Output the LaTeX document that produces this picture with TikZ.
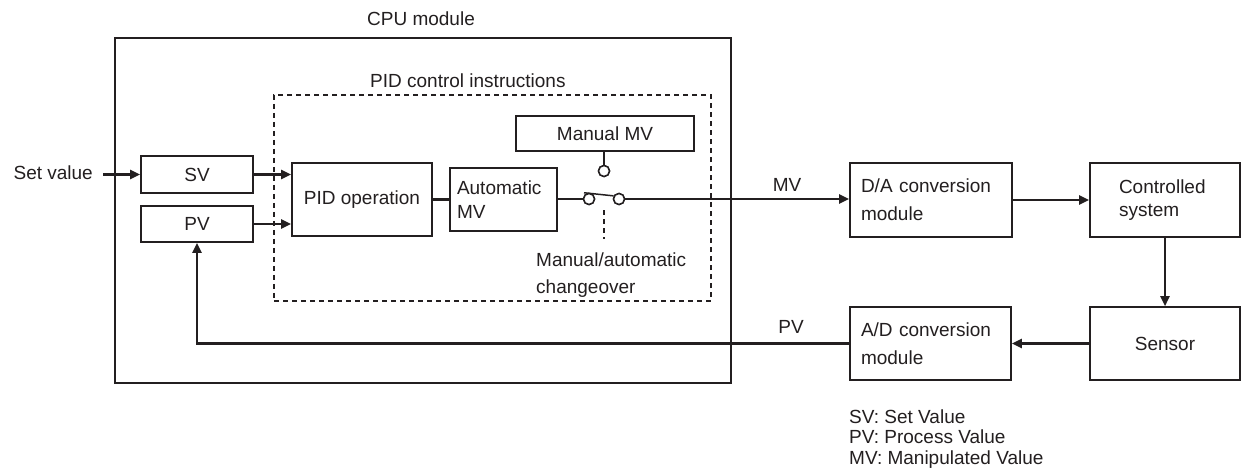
\documentclass[tikz,border=0pt]{standalone}
\usepackage{fontspec}
\setmainfont{Liberation Sans}
\usetikzlibrary{arrows.meta,calc}
\definecolor{ink}{HTML}{231F20}
\begin{document}
\begin{tikzpicture}[x=1pt,y=-1pt,
  txt/.style={font=\fontsize{19}{22}\selectfont, text=ink},
  box/.style={txt, draw=ink, line width=1.6pt, inner sep=0pt},
  lbox/.style={box, align=left},
  conn/.style={draw=ink, line width=2.3pt},
  arr/.style={conn, -{Triangle[length=10pt,width=9pt]}},
  dashbox/.style={draw=ink, line width=1.1pt, dash pattern=on 5pt off 4pt},
  sw/.style={circle, draw=ink, line width=1.5pt, fill=white, minimum size=11pt, inner sep=0pt}]
\useasboundingbox (0,0) rectangle (1241,473);
\fill[white] (0,0) rectangle (1241,473);

% CPU module frame
\node[box, minimum width=616, minimum height=345] (cpu) at (423,210.5) {};
\node[txt] (cpulbl) at (421,19) {CPU module};

% PID control instructions dashed frame
\node[dashbox, minimum width=437, minimum height=206, inner sep=0pt] (pid) at (492.5,198) {};
\node[txt, anchor=west, inner sep=0pt] (pidlbl) at (370,81) {PID control instructions};

% boxes
\node[box, minimum width=112, minimum height=37] (sv) at (197,174.5) {SV};
\node[box, minimum width=112, minimum height=36] (pv) at (197,224) {PV};
\node[box, minimum width=140, minimum height=73] (pidop) at (362,199.5) {PID operation};
\node[lbox, minimum width=107, minimum height=63, text width=93,
      font=\fontsize{19}{24}\selectfont] (auto) at (503.5,199.5) {Automatic\\MV};
\node[box, minimum width=178, minimum height=35] (man) at (605,133.5) {Manual MV};
\node[lbox, minimum width=162, minimum height=74, text width=140,
      font=\fontsize{19}{28}\selectfont] (da) at (931,200) {D/A conversion\\module};
\node[lbox, minimum width=150, minimum height=74, text width=92,
      font=\fontsize{19}{23}\selectfont] (cs) at (1165,200) {Controlled\\system};
\node[box, minimum width=150, minimum height=73] (sensor) at (1165,343.5) {Sensor};
\node[lbox, minimum width=161, minimum height=73, text width=139,
      font=\fontsize{19}{28}\selectfont] (ad) at (930.5,343.5) {A/D conversion\\module};

% switch
\node[sw] (c1) at (589,199) {};
\node[sw] (c2) at (619,199) {};
\node[sw] (c3) at (604,171) {};
\coordinate (d1) at (604,210);
\coordinate (d2) at (604,239);

% texts
\node[txt, anchor=east, inner sep=0pt] (setv) at (93,172.5) {Set value};
\node[txt, inner sep=0pt] (mvlbl) at (787,185) {MV};
\node[txt, inner sep=0pt] (pvlbl) at (791,327) {PV};
\node[txt, anchor=west, inner sep=0pt, align=left,
      font=\fontsize{19}{27}\selectfont] (chg) at (536,275) {Manual/automatic\\changeover};
\node[txt, anchor=west, inner sep=0pt, align=left,
      font=\fontsize{19}{20.5}\selectfont] (legend) at (849,439) {SV: Set Value\\PV: Process Value\\MV: Manipulated Value};

% connectors
\draw[arr] ([xshift=10pt]setv.east |- sv.west) -- (sv.west);
\draw[arr] (sv.east) -- (sv.east -| pidop.west);
\draw[arr] (pv.east) -- (pv.east -| pidop.west);
\draw[conn] (pidop.east) -- (pidop.east -| auto.west);
\draw[conn] (auto.east |- c1.west) -- (c1.west);
\draw[conn, line width=1.5pt] ([xshift=-5pt]c1.north) -- (c2.150);
\draw[conn] (c3.north) -- (c3.north |- man.south);
\draw[ink, line width=1.1pt, dash pattern=on 5pt off 4pt] (d1) -- (d2);
\draw[arr] (c2.east) -- (c2.east -| da.west);
\draw[arr] (da.east) -- (cs.west);
\draw[arr] (cs.south) -- (sensor.north);
\draw[arr] (sensor.west) -- (ad.east);
\draw[arr] (ad.west) -| (pv.south);
\node[sw] at (c1) {};
\node[sw] at (c2) {};
\node[sw] at (c3) {};
\end{tikzpicture}
\end{document}
